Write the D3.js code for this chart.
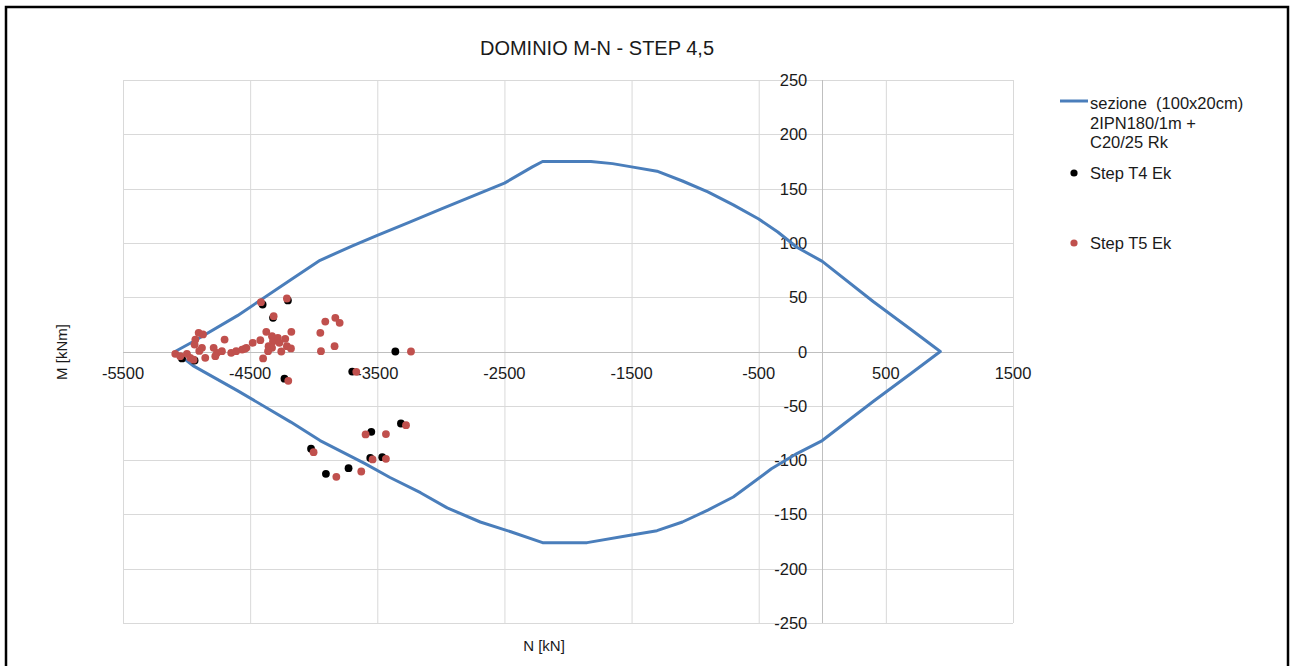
<!DOCTYPE html>
<html>
<head>
<meta charset="utf-8">
<script src="https://cdn.jsdelivr.net/npm/d3@7"></script>
<style>
    body { margin: 0; background: #fff; }
    svg { display: block; font-family: "Liberation Sans", Arial, sans-serif; }
</style>
</head>
<body>
<svg id="chart" width="1293" height="666"></svg>
<script>
// M-N interaction domain (N [kN], M [kNm])
const domainN = [-5090, -4950, -4600, -4180, -3950, -3700, -3500, -3250, -3000, -2750, -2500, -2280, -2200, -1820, -1650, -1500, -1300, -1100, -900, -700, -500, -350, -200, 0, 400, 700, 928,
                 700, 400, 0, -200, -400, -700, -900, -1100, -1300, -1500, -1850, -2200, -2450, -2690, -2950, -3160, -3400, -3600, -3950, -4180, -4600, -4950, -5090];
const domainM = [0, 9, 33, 66, 84, 97, 107, 119, 131, 143, 155, 170, 175, 175, 173, 170, 166, 157, 147, 135, 122, 110, 96, 83, 46, 20, 0,
                 -20, -46, -82, -94, -108, -134, -146, -157, -165, -169, -176, -176, -166, -157, -144, -130, -116, -103, -82, -65, -36, -13, 0];

// Step T4 Ek
const t4N = [-5036, -4937, -4402, -4203, -4308, -4230, -4021, -3904, -3726, -3547, -3555, -3461, -3314, -3358, -3697, -4320];
const t4M = [-6.4, -8.3, 43.3, 47, 11, -25, -89.5, -112.6, -107.4, -74, -98, -97.3, -66.3, 0, -18.5, 31];

// Step T5 Ek
const t5N = [-4001, -3822, -3626, -3592, -3432, -3537, -3432, -3274,
             -3830, -3796, -3909, -3948, -3836, -3943, -3235, -3665,
             -4415, -4211, -4315, -4176, -4373, -4328, -4420, -4320, -4224, -4480, -4543, -4355, -4328, -4359, -4211, -4179, -4255, -4398, -4200,
             -4905, -4871, -4931, -4937, -4879, -4701, -4787, -4761, -4722, -4853, -4774, -4649, -4610, -4563, -4530,
             -5089, -5050, -4997, -4971, -4945, -4900, -4282, -4270];
const t5M = [-92.7, -115.4, -110.5, -76.4, -76, -99.4, -98.8, -67.8,
             31, 26.4, 27.6, 17.2, 4.9, 0.3, 0, -18.7,
             45.4, 48.8, 32.5, 18.1, 18.1, 14.1, 10.4, 9.5, 11.7, 8, 2.5, 4.9, 3.4, 0.3, 4.9, 2.8, 0, -6.4, -27,
             17.2, 15.7, 11, 6.4, 3.4, 11, 3.4, -1.2, 0.3, -5.8, -4.3, -1.2, 0.3, 1.8, 3.4,
             -2.1, -4.3, -2.1, -5.8, -7.5, 0.5, 12.5, 8];

const xTicks = [-5500, -4500, -3500, -2500, -1500, -500, 500, 1500];
const yTicks = d3.range(-250, 251, 50);

const svg = d3.select("#chart");

const x = d3.scaleLinear().domain([-5500, 1500]).range([123, 1013]);
const y = d3.scaleLinear().domain([-250, 250]).range([623, 80]);

// outer frame
svg.append("rect")
    .attr("x", 6).attr("y", 7)
    .attr("width", 1282).attr("height", 680)
    .attr("fill", "none")
    .attr("stroke", "#000")
    .attr("stroke-width", 2.5);

svg.append("text")
    .attr("x", 597).attr("y", 55)
    .attr("text-anchor", "middle")
    .attr("font-size", 20)
    .attr("fill", "#1a1a1a")
    .text("DOMINIO M-N - STEP 4,5");

// grid
const grid = svg.append("g").attr("stroke", "#d9d9d9").attr("stroke-width", 1);
grid.selectAll("line.v").data(xTicks).join("line")
    .attr("x1", d => x(d) + 0.5).attr("x2", d => x(d) + 0.5)
    .attr("y1", y(250)).attr("y2", y(-250));
grid.selectAll("line.h").data(yTicks).join("line")
    .attr("y1", d => Math.round(y(d)) + 0.5).attr("y2", d => Math.round(y(d)) + 0.5)
    .attr("x1", x(-5500)).attr("x2", x(1500));

// axes through origin
const axisG = svg.append("g").attr("stroke", "#bfbfbf").attr("stroke-width", 1);
axisG.append("line")
    .attr("x1", x(-5500)).attr("x2", x(1500))
    .attr("y1", Math.round(y(0)) + 0.5).attr("y2", Math.round(y(0)) + 0.5);
axisG.append("line")
    .attr("x1", Math.round(x(0)) + 0.5).attr("x2", Math.round(x(0)) + 0.5)
    .attr("y1", y(250)).attr("y2", y(-250));

// tick labels
svg.append("g").selectAll("text").data(xTicks).join("text")
    .attr("x", d => x(d))
    .attr("y", y(0) + 27)
    .attr("text-anchor", "middle")
    .attr("font-size", 16.5)
    .attr("fill", "#1a1a1a")
    .text(d => d);

svg.append("g").selectAll("text").data(yTicks).join("text")
    .attr("x", x(0) - 15)
    .attr("y", d => y(d) + 6)
    .attr("text-anchor", "end")
    .attr("font-size", 16.5)
    .attr("fill", "#1a1a1a")
    .text(d => d);

// axis titles
svg.append("text")
    .attr("x", 544).attr("y", 651)
    .attr("text-anchor", "middle")
    .attr("font-size", 15)
    .attr("fill", "#1a1a1a")
    .text("N [kN]");
svg.append("text")
    .attr("transform", "translate(67,352) rotate(-90)")
    .attr("text-anchor", "middle")
    .attr("font-size", 15)
    .attr("fill", "#1a1a1a")
    .text("M [kNm]");

// domain curve
const domainPts = domainN.map((n, i) => [n, domainM[i]]);
svg.append("path")
    .datum(domainPts)
    .attr("fill", "none")
    .attr("stroke", "#4a7ebb")
    .attr("stroke-width", 3)
    .attr("stroke-linejoin", "round")
    .attr("d", d3.line().x(d => x(d[0])).y(d => y(d[1])));

// scatter series
svg.append("g").selectAll("circle")
    .data(t4N.map((n, i) => [n, t4M[i]]))
    .join("circle")
    .attr("cx", d => x(d[0])).attr("cy", d => y(d[1]))
    .attr("r", 3.9)
    .attr("fill", "#000");

svg.append("g").selectAll("circle")
    .data(t5N.map((n, i) => [n, t5M[i]]))
    .join("circle")
    .attr("cx", d => x(d[0])).attr("cy", d => y(d[1]))
    .attr("r", 3.9)
    .attr("fill", "#c0504d");

// legend
const legend = svg.append("g").attr("font-size", 16.5).attr("fill", "#1a1a1a");
legend.append("line")
    .attr("x1", 1060).attr("x2", 1088)
    .attr("y1", 101).attr("y2", 101)
    .attr("stroke", "#4a7ebb").attr("stroke-width", 3);
["sezione  (100x20cm)", "2IPN180/1m +", "C20/25 Rk"].forEach((t, i) => {
    legend.append("text")
        .attr("x", 1090).attr("y", 109 + i * 19.5)
        .attr("xml:space", "preserve")
        .style("white-space", "pre")
        .text(t);
});
legend.append("circle").attr("cx", 1074).attr("cy", 173).attr("r", 3.6).attr("fill", "#000");
legend.append("text").attr("x", 1090).attr("y", 179).text("Step T4 Ek");
legend.append("circle").attr("cx", 1074).attr("cy", 243).attr("r", 3.6).attr("fill", "#c0504d");
legend.append("text").attr("x", 1090).attr("y", 249).text("Step T5 Ek");
</script>
</body>
</html>
